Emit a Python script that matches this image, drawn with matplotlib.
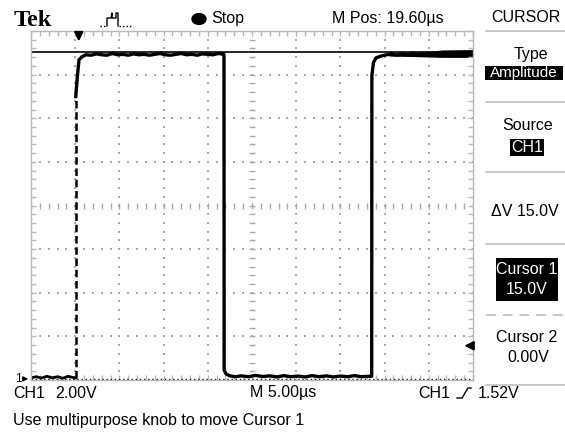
import numpy as np
import matplotlib.pyplot as plt
from matplotlib.patches import Rectangle, Circle
from matplotlib.lines import Line2D
import matplotlib.transforms as mtransforms

plt.rcParams['font.family'] = ['Liberation Sans', 'DejaVu Sans']

# --- waveform (time in us, CH1 in volts) ---
low1_t = [0.0, 0.6, 1.2, 1.8, 2.4, 3.0, 3.6, 4.2, 4.8, 5.05]
low1_v = [0.05, 0.1, 0.04, 0.12, 0.05, 0.1, 0.03, 0.12, 0.06, 0.05]

edge1_t = [5.06, 5.06]          # fast edge, shows as a dashed stroke
edge1_v = [0.05, 12.94]

rise1_t = [5.06, 5.26, 5.43, 5.77, 6.2]
rise1_v = [12.94, 13.94, 14.63, 14.77, 14.86]

high1_t = [6.8, 7.4, 8.0, 8.6, 9.2, 9.8, 10.4, 11.0, 11.6, 12.2, 12.8, 13.4, 14.0,
           14.6, 15.2, 15.8, 16.4, 17.0, 17.6, 18.2, 18.8, 19.4, 20.0, 20.6, 21.2, 21.8]
high1_v = [14.84, 14.9, 14.86, 14.84, 14.92, 14.86, 14.88, 14.84, 14.9, 14.86, 14.88, 14.84, 14.88,
           14.92, 14.86, 14.84, 14.88, 14.92, 14.86, 14.88, 14.84, 14.9, 14.88, 14.86, 14.92, 14.88]

fall_t = [21.83, 21.85, 22.06, 22.5, 23.1]
fall_v = [14.88, 0.41, 0.23, 0.14, 0.1]

low2_t = [23.8, 24.6, 25.4, 26.2, 27.0, 27.8, 28.6, 29.4, 30.2, 31.0, 31.8, 32.6,
          33.4, 34.2, 35.0, 35.8, 36.6, 37.4, 38.2, 38.54]
low2_v = [0.14, 0.1, 0.16, 0.11, 0.14, 0.09, 0.15, 0.1, 0.13, 0.09, 0.15, 0.1,
          0.14, 0.09, 0.13, 0.1, 0.15, 0.1, 0.12, 0.12]

rise2_t = [38.54, 38.56, 38.74, 39.03, 39.6]
rise2_v = [0.12, 13.9, 14.5, 14.72, 14.8]

high2_t = [40.2, 40.8, 41.4, 42.0, 42.6, 43.2, 43.8, 44.4, 45.0, 46.0, 47.0, 48.0, 49.0, 50.0]
high2_v = [14.86, 14.9, 14.84, 14.9, 14.86, 14.92, 14.84, 14.9, 14.86, 14.9, 14.88, 14.9, 14.88, 14.9]

# noise envelope on the right-hand high level
band_t = [40.5, 43.0, 45.0, 46.5, 50.0]
band_lo = [14.8, 14.78, 14.76, 14.74, 14.74]
band_hi = [14.94, 14.96, 15.02, 15.08, 15.1]

cursor1_v = 15.0
cursor2_v = 0.0
trig_level_v = 1.52
trig_pos_us = 5.4

us_per_div = 5.0
v_per_div = 2.0
n_xdiv, n_ydiv = 10, 8
v_bottom = -0.05

W, H = 565, 434
fig = plt.figure(figsize=(W / 100, H / 100), dpi=100)


def fx(x):
    return x / W


def fy(y):
    return 1 - y / H


ax = fig.add_axes([fx(31), fy(380), (473 - 31) / W, (380 - 31) / H])
ax.set_xlim(0, n_xdiv * us_per_div)
ax.set_ylim(v_bottom, v_bottom + n_ydiv * v_per_div)

grat = '#b8b8b8'
for s in ax.spines.values():
    s.set_color(grat)
    s.set_linewidth(1.0)
ax.set_xticks(np.arange(0, 50.01, us_per_div))
ax.set_yticks(v_bottom + np.arange(0, 8.01) * v_per_div)
ax.set_xticks(np.arange(0, 50.01, us_per_div / 5), minor=True)
ax.set_yticks(v_bottom + np.arange(0, 40.01) * v_per_div / 5, minor=True)
ax.tick_params(which='both', direction='in', length=3.5, width=1, color=grat,
               top=True, right=True, labelbottom=False, labelleft=False)

# dotted graticule lines
sub_x = np.arange(0, 50.01, us_per_div / 5)
sub_y = v_bottom + np.arange(0, 40.01) * v_per_div / 5
for k in range(1, n_xdiv):
    if k == n_xdiv // 2:
        continue
    ax.scatter(np.full_like(sub_y, k * us_per_div), sub_y, s=1.2, marker='s', color='#a8a8a8', lw=0)
for k in range(1, n_ydiv):
    if k == n_ydiv // 2:
        continue
    yk = v_bottom + k * v_per_div
    ax.scatter(sub_x, np.full_like(sub_x, yk), s=1.2, marker='s', color='#a8a8a8', lw=0)
# centre cross with tick marks
xc = n_xdiv / 2 * us_per_div
yc = v_bottom + n_ydiv / 2 * v_per_div
ax.scatter(np.full_like(sub_y, xc), sub_y, s=20, marker='_', color='#a8a8a8', lw=1)
ax.scatter(sub_x, np.full_like(sub_x, yc), s=20, marker='|', color='#a8a8a8', lw=1)

# cursors
ax.axhline(cursor1_v, color='black', lw=1.2)
ax.axhline(cursor2_v, color='black', lw=1.0, ls=(0, (1, 2)))

# trace
ax.plot(low1_t, low1_v, color='black', lw=2.0)
ax.plot(edge1_t, edge1_v, color='black', lw=1.8, ls=(0, (3, 1.5)))
ax.plot(rise1_t + high1_t + fall_t + low2_t + rise2_t + high2_t,
        rise1_v + high1_v + fall_v + low2_v + rise2_v + high2_v,
        color='black', lw=2.4)
ax.fill_between(band_t, band_lo, band_hi, color='black', lw=0)

# markers: trigger position, trigger level, ground
tx = mtransforms.blended_transform_factory(ax.transData, ax.transAxes)
ax.annotate('', xy=(trig_pos_us, 0.962), xytext=(trig_pos_us, 0.998), xycoords=tx, textcoords=tx,
            arrowprops=dict(arrowstyle='-|>', color='black', lw=1.5, mutation_scale=13),
            annotation_clip=False)
ty = mtransforms.blended_transform_factory(ax.transAxes, ax.transData)
ax.annotate('', xy=(0.974, trig_level_v), xytext=(0.999, trig_level_v), xycoords=ty, textcoords=ty,
            arrowprops=dict(arrowstyle='-|>', color='black', lw=1.5, mutation_scale=13),
            annotation_clip=False)
ax.annotate('', xy=(0.0, cursor2_v), xytext=(-0.02, cursor2_v), xycoords=ty, textcoords=ty,
            arrowprops=dict(arrowstyle='-|>', color='black', lw=1.0, mutation_scale=7),
            annotation_clip=False)
fig.text(fx(18), fy(379), '1', fontsize=8.5, ha='center', va='center')

fs = 11.5

# top bar
fig.text(fx(14), fy(20), 'Tek', fontsize=17.5, fontweight='bold',
         family=['Liberation Serif', 'DejaVu Serif'], ha='left', va='center')
fig.add_artist(Line2D([fx(100), fx(107)], [fy(26), fy(26)], transform=fig.transFigure,
                      color='black', lw=1, ls=(0, (1, 1.5))))
fig.add_artist(Line2D([fx(107), fx(107), fx(111), fx(112), fx(112), fx(116), fx(116), fx(118), fx(118)],
                      [fy(26), fy(18), fy(18), fy(13), fy(18), fy(18), fy(13), fy(13), fy(26)],
                      transform=fig.transFigure, color='black', lw=1))
fig.add_artist(Line2D([fx(119), fx(133)], [fy(26), fy(26)], transform=fig.transFigure,
                      color='black', lw=1, ls=(0, (1, 1.5))))
fig.add_artist(Circle((fx(199), fy(19)), 7 / W, transform=fig.transFigure, color='black'))
fig.text(fx(211), fy(19), 'Stop', fontsize=fs, ha='left', va='center')
fig.text(fx(388), fy(19), 'M Pos: 19.60µs', fontsize=fs, ha='center', va='center')
fig.text(fx(526), fy(18), 'CURSOR', fontsize=fs, ha='center', va='center')

# side menu
sep = '#c0c0c0'
for ys in [31, 102, 172, 244, 385]:
    fig.add_artist(Line2D([fx(486), fx(565)], [fy(ys), fy(ys)], transform=fig.transFigure,
                          color=sep, lw=1.2))
fig.add_artist(Line2D([fx(486), fx(565)], [fy(315), fy(315)], transform=fig.transFigure,
                      color=sep, lw=1.2, ls=(0, (6, 4))))


def box(x0, y0, x1, y1):
    fig.add_artist(Rectangle((fx(x0), fy(y1)), (x1 - x0) / W, (y1 - y0) / H,
                             transform=fig.transFigure, color='black', lw=0))


box(485, 66, 563, 80)
box(510, 139, 544, 156)
box(496, 258, 558, 301)

fig.text(fx(531), fy(55), 'Type', fontsize=fs, ha='center', va='center')
fig.text(fx(524), fy(73), 'Amplitude', fontsize=fs - 0.5, ha='center', va='center', color='white')
fig.text(fx(528), fy(126), 'Source', fontsize=fs, ha='center', va='center')
fig.text(fx(527), fy(147.5), 'CH1', fontsize=fs, ha='center', va='center', color='white')
fig.text(fx(525), fy(212), 'ΔV 15.0V', fontsize=fs, ha='center', va='center')
fig.text(fx(527), fy(269), 'Cursor 1', fontsize=fs, ha='center', va='center', color='white')
fig.text(fx(527), fy(290), '15.0V', fontsize=fs, ha='center', va='center', color='white')
fig.text(fx(527), fy(338), 'Cursor 2', fontsize=fs, ha='center', va='center')
fig.text(fx(528), fy(358), '0.00V', fontsize=fs, ha='center', va='center')

# bottom status
fig.text(fx(13), fy(393), 'CH1', fontsize=fs, ha='left', va='center')
fig.text(fx(55), fy(393), '2.00V', fontsize=fs, ha='left', va='center')
fig.text(fx(250), fy(393), 'M 5.00µs', fontsize=fs, ha='left', va='center')
fig.text(fx(418), fy(393), 'CH1', fontsize=fs, ha='left', va='center')
fig.add_artist(Line2D([fx(457), fx(462), fx(468), fx(471)], [fy(398), fy(398), fy(388), fy(388)],
                      transform=fig.transFigure, color='black', lw=1))
fig.text(fx(478), fy(393), '1.52V', fontsize=fs, ha='left', va='center')
fig.text(fx(13), fy(420), 'Use multipurpose knob to move Cursor 1', fontsize=fs,
         ha='left', va='center')

fig.savefig('out.png', dpi=100)
